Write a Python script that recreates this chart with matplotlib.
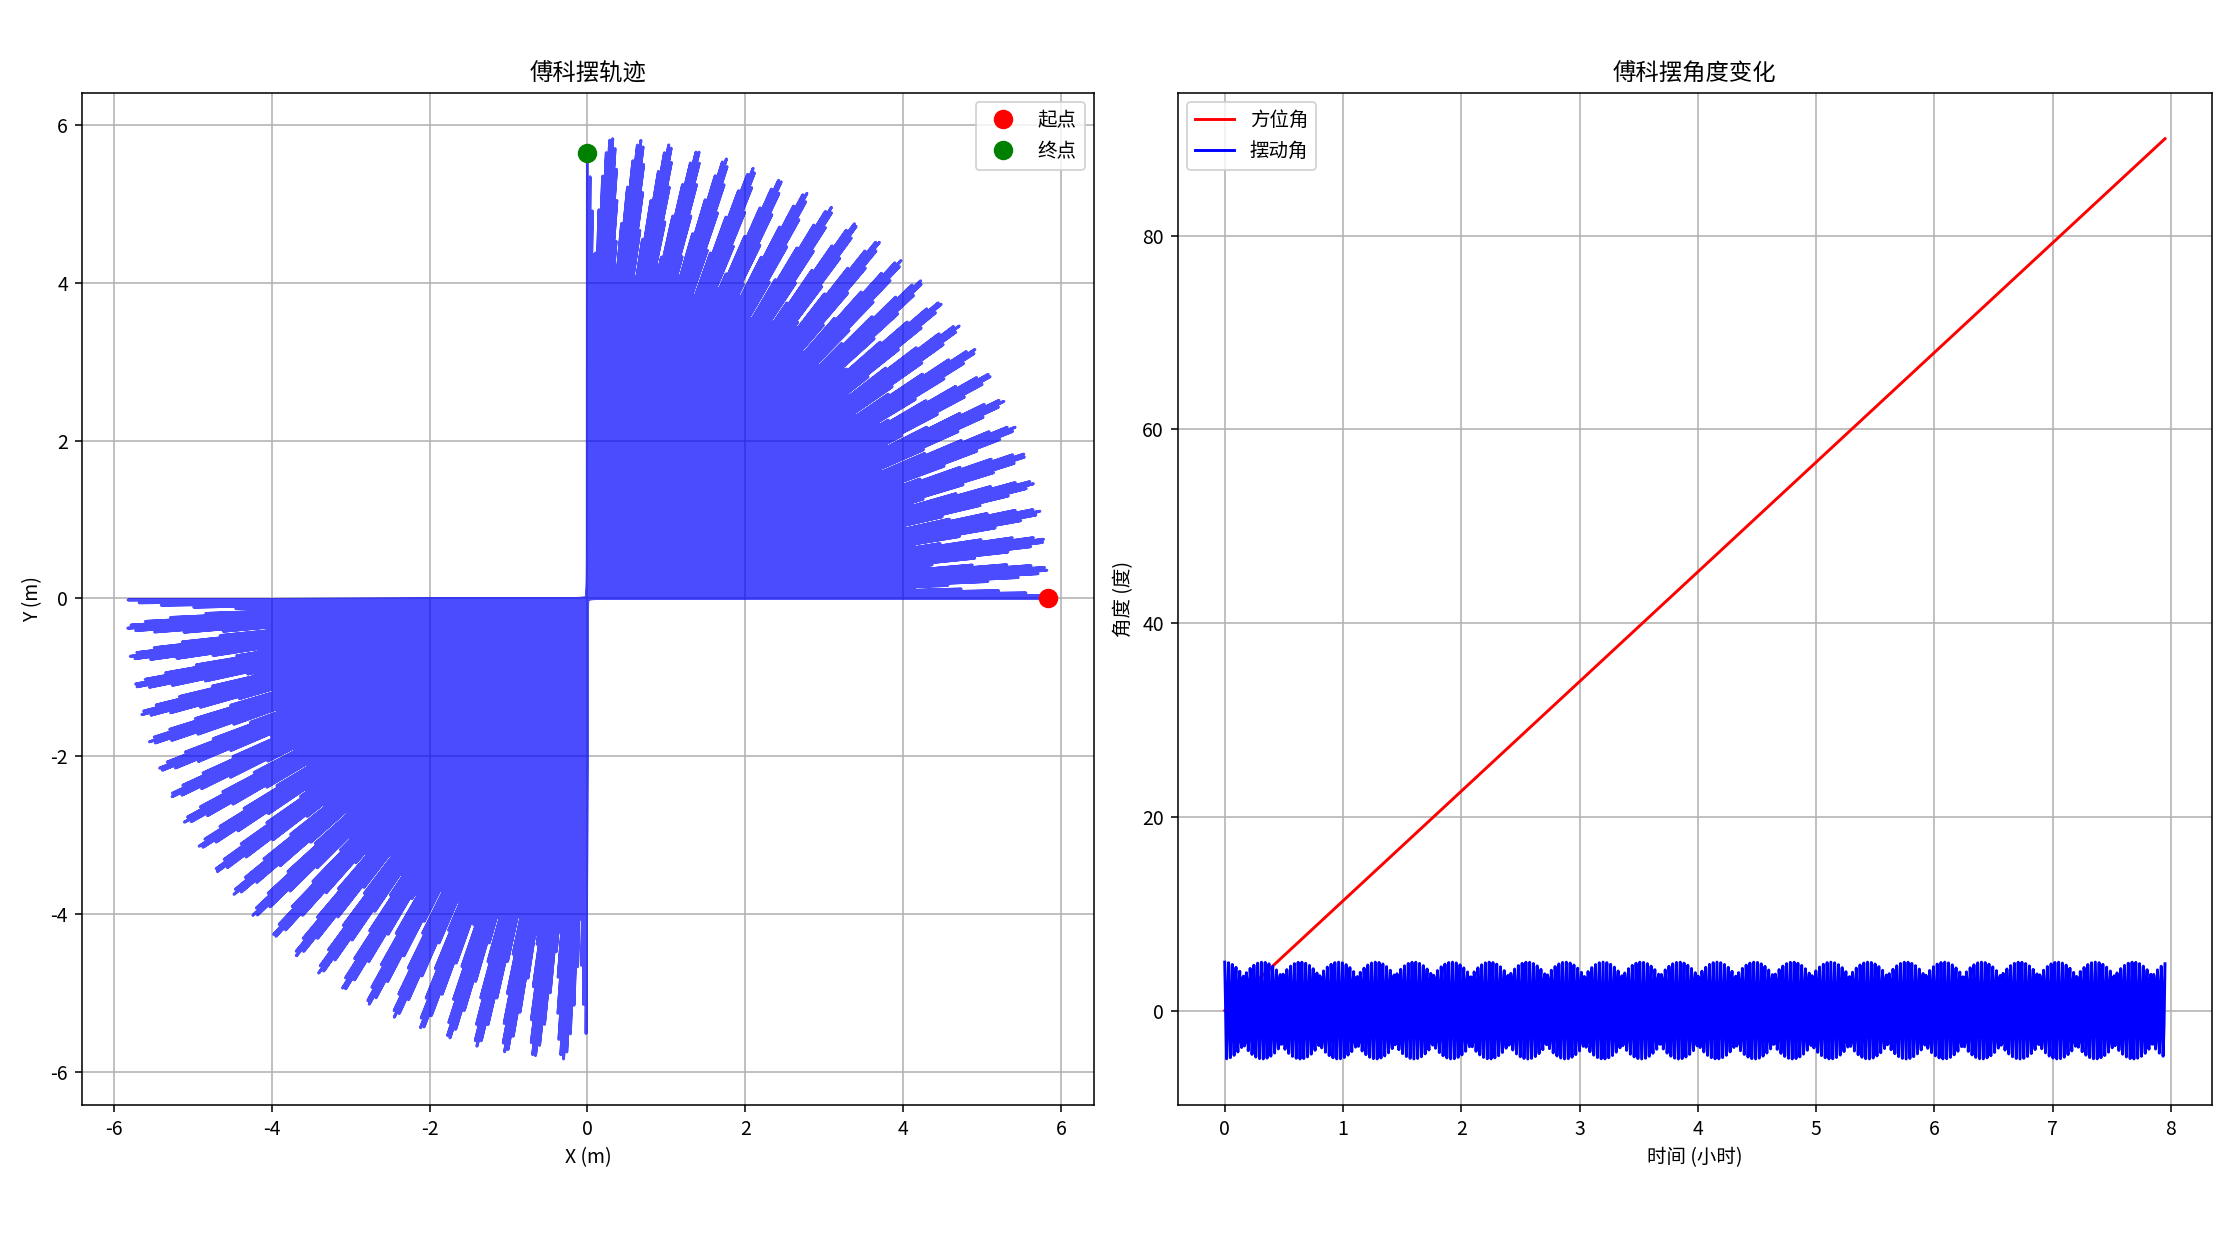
import numpy as np
import matplotlib
matplotlib.use("Agg")
import matplotlib.pyplot as plt

plt.rcParams['font.family'] = ['Noto Sans CJK SC', 'DejaVu Sans']
plt.rcParams['axes.unicode_minus'] = False

# Values (the traces are a dense simulated run,
# so they are rebuilt from these read parameters)
swing_amp_deg = 5.0        # 摆动角 amplitude, right panel
azimuth_end_deg = 90.0     # 方位角 at the last sample
t_end_h = 7.95             # last time sample, hours
pendulum_len_m = 67.0      # start radius 5.84 m = L*sin(5 deg)
period_s = 16.429          # swing period of the pendulum
n_samples = 1000

t_h = np.linspace(0, t_end_h, n_samples)
swing_deg = swing_amp_deg * np.cos(2 * np.pi * t_h * 3600 / period_s)
azimuth_deg = azimuth_end_deg * t_h / t_end_h

r = pendulum_len_m * np.sin(np.radians(swing_deg))
x = r * np.cos(np.radians(azimuth_deg))
y = r * np.sin(np.radians(azimuth_deg))

fig = plt.figure(figsize=(16, 1244 / 140), dpi=140)
ax1 = fig.add_axes([0.03647, 0.11174, 0.45205, 0.81375])
ax2 = fig.add_axes([0.52576, 0.11174, 0.46174, 0.81375])

# left: trajectory
ax1.plot(x, y, 'b-', alpha=0.7)
ax1.plot(x[0], y[0], 'ro', markersize=9, label='起点')
ax1.plot(x[-1], y[-1], 'go', markersize=9, label='终点')
ax1.set_aspect('equal', adjustable='datalim')
ax1.set_title('傅科摆轨迹', fontsize=12)
ax1.set_xlabel('X (m)')
ax1.set_ylabel('Y (m)')
ax1.legend(loc='upper right')
ax1.grid(True)

# right: angles vs time
ax2.plot(t_h, azimuth_deg, 'r-', label='方位角')
ax2.plot(t_h, swing_deg, 'b-', label='摆动角')
ax2.set_title('傅科摆角度变化', fontsize=12)
ax2.set_xlabel('时间 (小时)')
ax2.set_ylabel('角度 (度)')
ax2.legend(loc='upper left')
ax2.grid(True)

fig.savefig('out.png', dpi=140)
